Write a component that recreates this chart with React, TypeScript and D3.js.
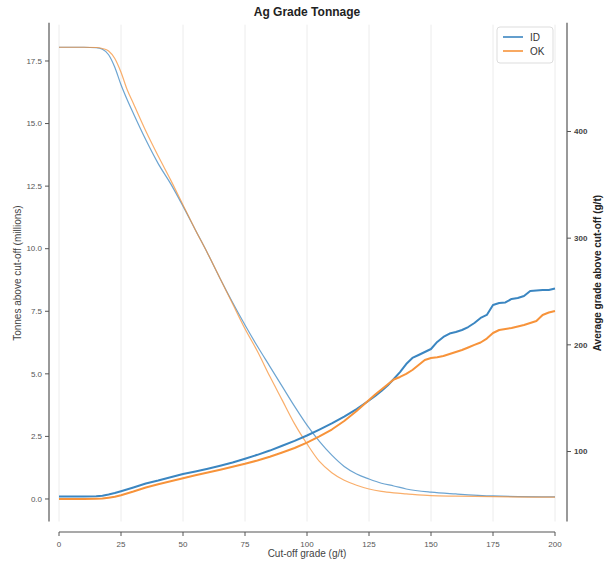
import React from "react";
import * as d3 from "d3";

const tonCutoffs = [0,5,10,15,17.5,20,22.5,25,27.5,30,35,40,45,50,55,60,65,70,75,80,85,90,95,100,105,110,115,120,125,130,135,140,150,160,175,200];
const tonID = [18.05,18.05,18.05,18.03,17.97,17.75,17.25,16.55,15.95,15.4,14.35,13.4,12.6,11.7,10.75,9.8,8.8,7.85,6.95,6.1,5.3,4.5,3.7,2.95,2.3,1.75,1.3,1.0,0.8,0.63,0.52,0.4,0.27,0.2,0.12,0.08];
const tonOK = [18.05,18.05,18.05,18.04,18.0,17.9,17.6,17.05,16.35,15.8,14.7,13.7,12.75,11.75,10.75,9.8,8.8,7.8,6.8,5.9,4.9,3.95,3.0,2.2,1.5,1.05,0.75,0.55,0.4,0.3,0.24,0.2,0.13,0.11,0.09,0.07];

const gradeCutoffs = [0,5,10,15,17.5,20,22.5,25,30,35,40,45,50,55,60,65,70,75,80,85,90,95,100,105,110,115,120,125,127.5,130,132.5,135,137.5,140,142.5,145,147.5,150,152.5,155,157.5,160,162.5,165,167.5,170,172.5,175,177.5,180,182.5,185,187.5,190,192.5,195,197.5,200];
const gradeID = [57.8,57.8,57.9,58.1,58.5,59.7,61.1,62.8,66.3,70.0,72.8,75.9,78.9,81.3,83.9,86.7,89.7,93.2,96.9,100.9,105.4,110.0,115.0,120.6,126.3,132.8,139.8,147.8,152.0,156.7,161.9,168.0,174.5,182.0,187.7,190.5,193.3,196.1,202.7,207.4,210.6,212.0,213.9,216.7,220.5,225.2,228.0,237.4,239.2,239.7,243.0,243.9,245.8,250.5,250.9,251.4,251.4,252.8];
const gradeOK = [55.5,55.5,55.5,55.7,55.9,56.7,57.6,59.0,62.5,66.3,69.4,72.2,75.0,77.7,80.3,82.9,85.7,88.5,91.6,95.1,99.1,103.3,108.3,114.1,120.6,128.6,138.0,148.3,153.4,158.1,162.8,167.5,169.9,172.7,176.4,181.1,185.8,187.7,188.4,189.5,191.4,193.3,195.2,197.5,199.9,202.2,205.9,211.1,213.9,214.9,215.8,217.2,218.6,220.5,222.4,228.0,230.3,231.7];

const xTicks = [0,25,50,75,100,125,150,175,200];
const leftTicks = [0,2.5,5,7.5,10,12.5,15,17.5];
const rightTicks = [100,200,300,400];
const seriesNames = ["ID","OK"];
const colors = ["#3b86c1","#f7933a"];

export default function App() {
  const W = 611, H = 568;
  const x0 = 59, x1 = 555, yTop = 24.7, yBot = 521.5;
  const x = d3.scaleLinear().domain([0, 200]).range([x0, x1]);
  const yL = d3.scaleLinear().domain([-0.9, 18.95]).range([yBot, yTop]);
  const yR = d3.scaleLinear().domain([34.4, 500.1]).range([yBot, yTop]);
  const leftSpine = 49, rightSpine = 567, bottomSpine = 532;
  const font = "'Liberation Sans', Arial, sans-serif";

  const tonLine = (vals: number[]) =>
    d3.line<number>().x((_, i) => x(tonCutoffs[i])).y((d) => yL(d)).curve(d3.curveMonotoneX)(vals) || "";
  const gradeLine = (vals: number[]) =>
    d3.line<number>().x((_, i) => x(gradeCutoffs[i])).y((d) => yR(d))(vals) || "";

  const tons = [tonID, tonOK];
  const grades = [gradeID, gradeOK];

  return (
    <svg width={W} height={H} style={{ position: "absolute", left: 0, top: 0, background: "#fff" }} fontFamily={font}>
      <rect x={0} y={0} width={W} height={H} fill="#fff" />
      {xTicks.map((t) => (
        <line key={"g" + t} x1={x(t)} x2={x(t)} y1={yTop} y2={yBot} stroke="#ececec" strokeWidth={1} />
      ))}
      {tons.map((v, i) => (
        <path key={"t" + i} d={tonLine(v)} fill="none" stroke={colors[i]} strokeWidth={1.2} strokeOpacity={0.75} />
      ))}
      {grades.map((v, i) => (
        <path key={"gr" + i} d={gradeLine(v)} fill="none" stroke={colors[i]} strokeWidth={2} strokeLinejoin="round" />
      ))}
      <line x1={leftSpine} x2={leftSpine} y1={yTop - 2} y2={yBot} stroke="#555" strokeWidth={1.2} />
      {leftTicks.map((t) => (
        <g key={"l" + t}>
          <line x1={leftSpine - 4} x2={leftSpine} y1={yL(t)} y2={yL(t)} stroke="#555" />
          <text x={leftSpine - 7} y={yL(t)} dy="0.35em" textAnchor="end" fontSize={8} fill="#555">
            {t.toFixed(1)}
          </text>
        </g>
      ))}
      <text transform={`translate(17,${(yTop + yBot) / 2}) rotate(-90)`} textAnchor="middle" dy="0.35em" fontSize={10} fill="#444">
        Tonnes above cut-off (millions)
      </text>
      <line x1={rightSpine} x2={rightSpine} y1={yTop - 2} y2={yBot} stroke="#555" strokeWidth={1.2} />
      {rightTicks.map((t) => (
        <g key={"r" + t}>
          <line x1={rightSpine} x2={rightSpine + 4} y1={yR(t)} y2={yR(t)} stroke="#555" />
          <text x={rightSpine + 7} y={yR(t)} dy="0.35em" textAnchor="start" fontSize={8} fill="#444" fontWeight="bold">
            {t}
          </text>
        </g>
      ))}
      <text transform={`translate(597,${(yTop + yBot) / 2}) rotate(-90)`} textAnchor="middle" dy="0.35em" fontSize={10} fill="#222" fontWeight="bold">
        Average grade above cut-off (g/t)
      </text>
      <line x1={x(0)} x2={x(200)} y1={bottomSpine} y2={bottomSpine} stroke="#555" strokeWidth={1.2} />
      {xTicks.map((t) => (
        <g key={"x" + t}>
          <line x1={x(t)} x2={x(t)} y1={bottomSpine} y2={bottomSpine + 4} stroke="#555" />
          <text x={x(t)} y={bottomSpine + 15} textAnchor="middle" fontSize={8} fill="#555">
            {t}
          </text>
        </g>
      ))}
      <text x={(x0 + x1) / 2} y={557} textAnchor="middle" fontSize={10} fill="#444">
        Cut-off grade (g/t)
      </text>
      <text x={(x0 + x1) / 2} y={16} textAnchor="middle" fontSize={12} fontWeight="bold" fill="#222">
        Ag Grade Tonnage
      </text>
      <rect x={497} y={27} width={56} height={36} rx={3} fill="#fff" fillOpacity={0.85} stroke="#ddd" />
      {seriesNames.map((n, i) => (
        <g key={"lg" + n}>
          <line x1={503} x2={523} y1={37 + i * 14} y2={37 + i * 14} stroke={colors[i]} strokeWidth={1.6} />
          <text x={530} y={37 + i * 14} dy="0.35em" fontSize={10} fill="#333">
            {n}
          </text>
        </g>
      ))}
    </svg>
  );
}
